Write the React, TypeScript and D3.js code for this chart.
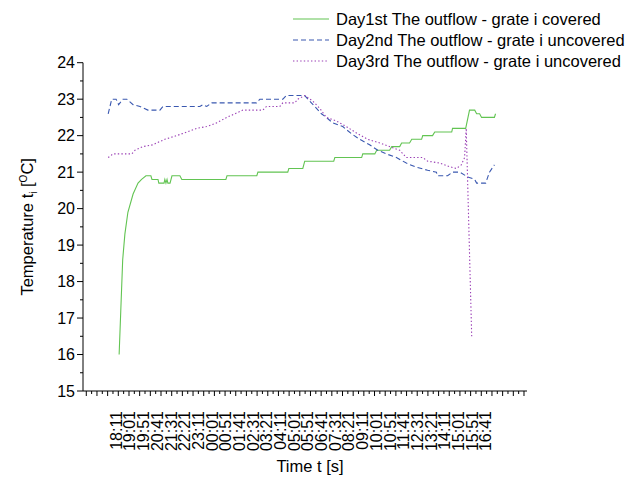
import React, { useEffect, useRef } from "react";
import * as d3 from "d3";

// time axis labels, one every 50 minutes starting at 18:11
const timeLabels = [
  "18:11", "19:01", "19:51", "20:41", "21:31", "22:21", "23:11", "00:01",
  "00:51", "01:41", "02:31", "03:21", "04:11", "05:01", "05:51", "06:41",
  "07:31", "08:21", "09:11", "10:01", "10:51", "11:41", "12:31", "13:21",
  "14:11", "15:01", "15:51", "16:41",
];

const seriesNames = [
  "Day1st The outflow - grate i covered",
  "Day2nd The outflow - grate i uncovered",
  "Day3rd The outflow - grate i uncovered",
];

// [minutes after 18:11, temperature °C]
const day1: [number, number][] = [
  [15, 16.0], [21, 17.2], [28, 18.6], [36, 19.3], [47, 19.9], [66, 20.4],
  [84, 20.7], [97, 20.8], [113, 20.9], [131, 20.9], [135, 20.8], [157, 20.8],
  [160, 20.7], [179, 20.7], [182, 20.8], [186, 20.7], [190, 20.8], [193, 20.7],
  [201, 20.7], [208, 20.9], [237, 20.9], [244, 20.8], [405, 20.8], [409, 20.9],
  [518, 20.9], [522, 21.0], [631, 21.0], [635, 21.1], [686, 21.1], [693, 21.3],
  [799, 21.3], [803, 21.4], [901, 21.4], [905, 21.5], [949, 21.5], [956, 21.6],
  [1003, 21.6], [1011, 21.7], [1040, 21.7], [1047, 21.8], [1076, 21.8],
  [1084, 21.9], [1120, 21.9], [1124, 22.0], [1160, 22.0], [1168, 22.1],
  [1230, 22.1], [1233, 22.2], [1281, 22.2], [1295, 22.7], [1314, 22.7],
  [1321, 22.6], [1332, 22.6], [1339, 22.5], [1386, 22.5], [1390, 22.6],
];

const day2: [number, number][] = [
  [-25, 22.6], [-12, 23.0], [4, 23.0], [13, 22.85], [29, 23.0], [43, 23.0],
  [66, 22.85], [91, 22.8], [120, 22.7], [164, 22.7], [175, 22.8], [310, 22.8],
  [321, 22.85], [335, 22.8], [353, 22.9], [517, 22.9], [529, 23.0], [613, 23.0],
  [626, 23.1], [693, 23.1], [711, 22.95], [736, 22.75], [754, 22.6], [772, 22.5],
  [795, 22.35], [832, 22.25], [864, 22.05], [894, 21.9], [930, 21.75],
  [960, 21.6], [991, 21.5], [1028, 21.4], [1064, 21.25], [1095, 21.15],
  [1142, 21.05], [1174, 21.0], [1178, 20.9], [1215, 20.9], [1233, 21.0],
  [1259, 21.0], [1288, 20.87], [1314, 20.8], [1321, 20.7], [1354, 20.7],
  [1368, 21.0], [1386, 21.2],
];

const day3: [number, number][] = [
  [-25, 21.4], [-7, 21.5], [61, 21.5], [73, 21.6], [102, 21.7], [139, 21.75],
  [152, 21.8], [182, 21.9], [225, 22.0], [262, 22.1], [298, 22.2], [335, 22.25],
  [371, 22.35], [408, 22.5], [438, 22.6], [467, 22.7], [540, 22.7], [553, 22.8],
  [602, 22.8], [613, 22.9], [657, 22.9], [668, 23.0], [693, 23.1], [722, 22.95],
  [748, 22.75], [772, 22.5], [809, 22.4], [845, 22.25], [887, 22.05],
  [923, 21.9], [967, 21.8], [1003, 21.7], [1040, 21.6], [1064, 21.4],
  [1124, 21.4], [1142, 21.3], [1186, 21.25], [1222, 21.15], [1247, 21.1],
  [1265, 21.2], [1277, 21.4], [1283, 22.2], [1303, 16.5],
];

const colors = ["#62c452", "#3a58b0", "#9a3fb5"];
const dashes = [null, "5,3", "1.4,2.2"];

const FONT = "Arial, 'Liberation Sans', sans-serif";

function Chart() {
  const ref = useRef<SVGSVGElement>(null);

  useEffect(() => {
    const svg = d3.select(ref.current);
    svg.selectAll("*").remove();

    const left = 83, right = 527, top = 62.7, bottom = 391;

    const x = d3.scaleLinear().domain([-117, 1505]).range([left, right]);
    const y = d3.scaleLinear().domain([15, 24]).range([bottom, top]);

    const g = svg.append("g").attr("font-family", FONT);

    // y axis
    g.append("line")
      .attr("x1", left).attr("x2", left)
      .attr("y1", top).attr("y2", bottom)
      .attr("stroke", "#000");
    const yMinor = d3.range(15.5, 24, 1);
    g.selectAll(".ymin")
      .data(yMinor)
      .join("line")
      .attr("x1", left - 3).attr("x2", left)
      .attr("y1", (d) => y(d)).attr("y2", (d) => y(d))
      .attr("stroke", "#000");
    const yMajor = d3.range(15, 25, 1);
    g.selectAll(".ymaj")
      .data(yMajor)
      .join("line")
      .attr("x1", left - 6).attr("x2", left)
      .attr("y1", (d) => y(d)).attr("y2", (d) => y(d))
      .attr("stroke", "#000");
    g.selectAll(".ylab")
      .data(yMajor)
      .join("text")
      .attr("x", left - 8)
      .attr("y", (d) => y(d))
      .attr("dy", "0.36em")
      .attr("text-anchor", "end")
      .attr("font-size", 16)
      .text((d) => d);

    // x axis
    g.append("line")
      .attr("x1", left).attr("x2", right)
      .attr("y1", bottom).attr("y2", bottom)
      .attr("stroke", "#000");
    const xTicks = d3.range(-105, 1505, 19.5);
    g.selectAll(".xt")
      .data(xTicks)
      .join("line")
      .attr("x1", (d) => x(d)).attr("x2", (d) => x(d))
      .attr("y1", bottom).attr("y2", (d, i) => bottom + (i % 2 === 0 ? 5 : 3))
      .attr("stroke", "#000");
    g.selectAll(".xlab")
      .data(timeLabels)
      .join("text")
      .attr("transform", (d, i) => `translate(${x(i * 50) + 1},${bottom + 20}) rotate(-90)`)
      .attr("dy", "0.36em")
      .attr("text-anchor", "end")
      .attr("font-size", 16)
      .text((d) => d);

    // axis titles
    g.append("text")
      .attr("x", (left + right) / 2 + 5)
      .attr("y", 472)
      .attr("text-anchor", "middle")
      .attr("font-size", 16.5)
      .text("Time t [s]");

    const yt = g.append("text")
      .attr("transform", `translate(33,${(top + bottom) / 2}) rotate(-90)`)
      .attr("text-anchor", "middle")
      .attr("font-size", 16.5);
    yt.append("tspan").text("Temperature t");
    yt.append("tspan").attr("font-size", 10).attr("dy", 4).text("i");
    yt.append("tspan").attr("dy", -4).text(" [");
    yt.append("tspan").attr("font-size", 10).attr("dy", -6).text("O");
    yt.append("tspan").attr("dy", 6).text("C]");

    // lines
    const line = d3.line<[number, number]>()
      .x((d) => x(d[0]))
      .y((d) => y(d[1]));
    [day1, day2, day3].forEach((s, i) => {
      const p = g.append("path")
        .datum(s)
        .attr("d", line)
        .attr("fill", "none")
        .attr("stroke", colors[i])
        .attr("stroke-width", 1.1);
      if (dashes[i]) p.attr("stroke-dasharray", dashes[i] as string);
    });

    // legend
    const rows = [25, 46, 67];
    seriesNames.forEach((name, i) => {
      const ly = rows[i] - 6;
      const l = g.append("line")
        .attr("x1", 293).attr("x2", 329)
        .attr("y1", ly).attr("y2", ly)
        .attr("stroke", colors[i])
        .attr("stroke-width", 1.1);
      if (dashes[i]) l.attr("stroke-dasharray", dashes[i] as string);
      g.append("text")
        .attr("x", 336)
        .attr("y", rows[i])
        .attr("font-size", 16.5)
        .text(name);
    });
  }, []);

  return (
    <svg
      ref={ref}
      width={639}
      height={478}
      style={{ position: "absolute", left: 0, top: 0, background: "#fff" }}
    />
  );
}

export default function App() {
  return <Chart />;
}
